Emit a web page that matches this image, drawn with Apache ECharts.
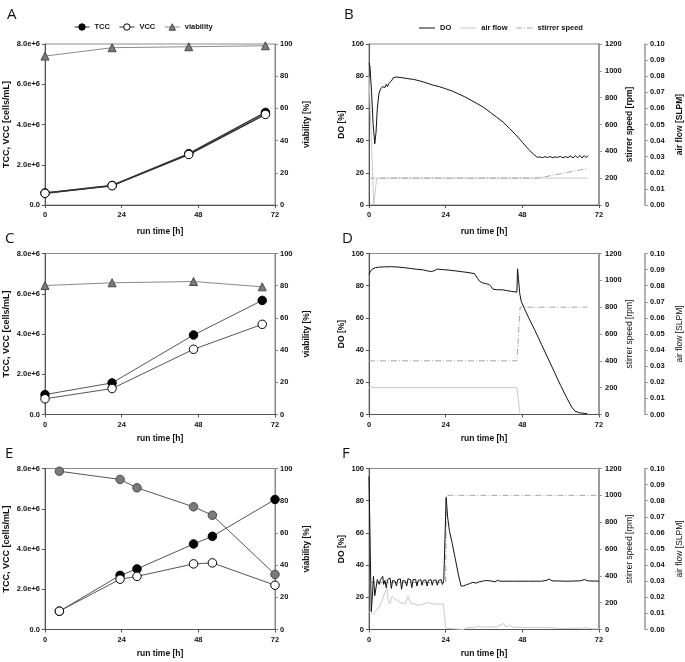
<!DOCTYPE html>
<html><head><meta charset="utf-8">
<script src="https://cdn.jsdelivr.net/npm/echarts@6/dist/echarts.min.js"></script>
<style>html,body{margin:0;padding:0;background:#fff}#c{width:685px;height:662px}</style>
</head><body><div id="c"></div>
<script>
// ---------- tick labels ----------
const timeTicks = ['0', '24', '48', '72'];
const cellTicks = ['0.0', '2.0e+6', '4.0e+6', '6.0e+6', '8.0e+6'];
const pctTicks = ['0', '20', '40', '60', '80', '100'];
const rpmTicks = ['0', '200', '400', '600', '800', '1000', '1200'];
const airTicks = ['0.00', '0.01', '0.02', '0.03', '0.04', '0.05', '0.06', '0.07', '0.08', '0.09', '0.10'];

// ---------- panel A ----------
const A_time = [0, 21, 45, 69];
const A_tcc = [0.60e6, 0.97e6, 2.55e6, 4.60e6];
const A_vcc = [0.58e6, 0.96e6, 2.51e6, 4.50e6];
const A_via = [92.5, 97.7, 98.3, 98.9];

// ---------- panel C ----------
const C_time = [0, 21, 46.5, 68];
const C_tcc = [0.99e6, 1.57e6, 3.95e6, 5.67e6];
const C_vcc = [0.78e6, 1.29e6, 3.24e6, 4.48e6];
const C_via = [80.1, 81.8, 82.6, 79.3];

// ---------- panel E ----------
const E_time = [4.5, 23.5, 28.8, 46.5, 52.4, 72];
const E_tcc = [0.91e6, 2.69e6, 3.01e6, 4.25e6, 4.63e6, 6.46e6];
const E_vcc = [0.91e6, 2.50e6, 2.64e6, 3.26e6, 3.31e6, 2.20e6];
const E_via = [98.3, 93.2, 88.0, 76.2, 71.0, 34.2];

// ---------- panel B ----------
const B_do = [[0,88],[0.3,86],[0.8,70],[1.3,50],[1.8,38],[2.2,45],[2.6,60],[3.1,69],[3.6,72],[4.2,73.5],[4.7,74.5],[5.0,73],[5.4,75],[5.8,73.5],[6.2,75.5],[6.6,75],[7.0,77],[7.3,76],[7.6,79],[8.0,78],[8.4,79.5],[9.0,79],[10,79.2],[12,78.5],[14,78],[16,77],[18,75.8],[20,74.5],[22,73.5],[24,72.2],[26,70.8],[28,69],[30,67.2],[32,65],[34,62.8],[36,60.5],[38,57.5],[40,54.5],[42,51.5],[44,47.5],[46,43.5],[48,39],[50,34.5],[51.5,31.5],[52.7,29.6],[53.5,29.9],[54.3,29.4],[55.1,30],[55.9,29.5],[56.7,30.1],[57.5,29.4],[58.3,29.9],[59.1,29.6],[59.9,30.2],[60.7,29.3],[61.5,30],[62.3,29.5],[63.1,30.4],[63.9,29.2],[64.6,30.6],[65.3,29.3],[66,30.8],[66.7,29.2],[67.4,30.7],[68,29.4],[68.6,30.8]];
const B_air = [[0,0.08],[1.5,0],[2.4,0.0167],[68.6,0.0167]];
const B_rpm = [[0,200],[52.7,200],[68.6,272]];

// ---------- panel D ----------
const D_do = [[0,87],[0.5,89],[1,90.3],[2,91.2],[3,91.5],[5,91.7],[7,91.8],[9,91.6],[11,91.2],[13,90.7],[15,90.2],[17,89.8],[18.3,89.2],[19.3,88.8],[20.3,89.2],[21.4,90.3],[23,90],[25,89.7],[27,89.2],[29,88.7],[31,88.2],[33,87.5],[33.6,86.8],[34,84.5],[34.6,82.8],[35.5,81.8],[36.5,81.3],[37.6,80.8],[38.2,79.5],[38.8,77.8],[40,77.5],[42,77.4],[43,77],[44.5,76.5],[46.3,76],[46.5,90.5],[46.8,84],[47.2,75],[47.7,70],[48.5,66.5],[50,60],[52,52],[54,43.5],[56,35],[58,26.5],[60,18],[62,10],[63.5,4.5],[64.5,2],[66,1],[68.3,0.5]];
const D_air = [[0,0.0167],[46.3,0.0167],[47.3,0]];
const D_rpm = [[0,400],[46.3,400],[47.3,800],[68.3,800]];

// ---------- panel F ----------
const F_do = [[0,95],[0.3,60],[0.7,11],[1.1,22],[1.4,33],[1.8,21],[2.2,22],[2.6,31],[2.9,30],[3.2,28],[3.6,31],[4.0,30.5],[4.3,33],[4.6,28],[5.0,30.5],[5.4,26],[5.8,31],[6.2,30],[6.6,32],[7.0,25.5],[7.4,30.5],[7.8,31],[8.2,30],[8.6,27],[9.0,31],[9.4,30.5],[9.8,31.5],[10.2,25],[10.6,30.5],[11.0,31],[11.4,30],[11.8,27],[12.2,31.5],[12.6,30.5],[13.0,31],[13.4,26],[13.8,31],[14.2,30.5],[14.6,31],[15.0,27],[15.4,30.5],[15.8,30],[16.2,31],[16.6,27.5],[17.0,30.5],[17.4,30],[17.8,30.8],[18.2,27],[18.6,30.5],[19.0,30],[19.4,31],[19.8,27.5],[20.2,30.5],[20.6,30],[21.0,30.8],[21.4,27.5],[21.8,30.5],[22.2,30],[22.6,31],[23.0,28],[23.4,30.5],[23.8,30],[24.0,29.5],[24.15,82],[24.6,70],[25.2,61],[26,54],[27,44],[28,34],[28.8,27],[29.5,27],[30.5,27.8],[31.5,28.5],[32.5,29.3],[33.5,28.8],[34.5,29.6],[35.5,30],[36.5,30.4],[38,30.2],[39.5,29.6],[40.2,30.6],[41,30],[45,30],[50,30],[54,30],[55.5,30.5],[56.5,31.3],[57.3,30.2],[62,30],[66,30.2],[67.5,31],[68.5,30.2],[72,30]];
const F_air = [[0,0.011],[0.5,0.0098],[1.2,0.0095],[2,0.011],[2.6,0.0115],[3.2,0.014],[4,0.0175],[4.6,0.018],[5.2,0.024],[5.6,0.0265],[6,0.018],[6.5,0.016],[7.2,0.0205],[8,0.019],[9,0.0178],[10,0.0165],[11.5,0.0162],[12.2,0.021],[13,0.0165],[14,0.016],[15.5,0.015],[17,0.0158],[18.3,0.0168],[19.5,0.016],[21,0.0158],[23.3,0.0158],[24,0.0008],[24.3,0],[29.5,0],[30.5,0.001],[33,0.0012],[34,0.002],[35,0.0015],[40,0.0016],[42.2,0.0038],[42.8,0.0015],[44,0.0025],[45,0.0015],[50,0.0012],[56,0.0012],[60,0.0006],[66,0.0008],[68,0.001],[70,0.0004],[72,0.0004]];
const F_rpm = [[0,350],[24,350],[24.2,1000],[72,1000]];

// ---------- building ----------
const FF = '"Liberation Sans", Arial, sans-serif';
const pairs = (t, v) => t.map((x, i) => [x, v[i]]);

const grids = [
  {left: 45, top: 44, width: 230, height: 161},
  {left: 369, top: 44, width: 231, height: 161},
  {left: 45, top: 253.5, width: 230, height: 161},
  {left: 369, top: 253.5, width: 231, height: 161},
  {left: 45, top: 468.5, width: 230, height: 161},
  {left: 369, top: 468.5, width: 231, height: 161}
].map(g => Object.assign(g, {show: true, borderColor: '#8a8a8a', borderWidth: 1, containLabel: false}));

const xGaps = [22.5, 22.5, 19.5, 19.5, 19.5, 19.5];
const xAxes = grids.map((g, i) => ({
  type: 'value', gridIndex: i, min: 0, max: 72, interval: 24,
  name: 'run time [h]', nameLocation: 'middle', nameGap: xGaps[i],
  nameTextStyle: {fontWeight: 'bold', fontSize: 8.5, color: '#111', fontFamily: FF},
  axisLine: {lineStyle: {color: '#555', width: 1}},
  axisTick: {length: 3, lineStyle: {color: '#555'}},
  axisLabel: {margin: 6, fontSize: 7.5, fontWeight: 'bold', color: '#111', fontFamily: FF,
    formatter: v => timeTicks[Math.round(v / 24)]},
  splitLine: {show: false}
}));

function yAx(o) {
  return {
    type: 'value', gridIndex: o.grid, position: o.pos, offset: o.offset || 0,
    min: o.min, max: o.max, interval: o.interval,
    name: o.name, nameLocation: 'middle', nameGap: o.gap,
    nameTextStyle: {fontWeight: o.bold === false ? 'normal' : 'bold', fontSize: o.nfs || 8.5, color: '#111', fontFamily: FF},
    axisLine: {show: true, lineStyle: {color: o.lc || '#555', width: o.lw || 1}},
    axisTick: {show: true, length: 3, lineStyle: {color: o.lc || '#555'}},
    axisLabel: {margin: o.margin || 5, fontSize: 7.5, fontWeight: 'bold', color: '#111', fontFamily: FF,
      formatter: v => o.ticks[Math.round((v - o.min) / o.interval)]},
    splitLine: {show: false}
  };
}

const yAxes = [];
const cellPanel = (g) => {
  yAxes.push(yAx({grid: g, pos: 'left', min: 0, max: 8e6, interval: 2e6, ticks: cellTicks, name: 'TCC, VCC [cells/mL]', gap: 34, nfs: 9}));
  yAxes.push(yAx({grid: g, pos: 'right', min: 0, max: 100, interval: 20, ticks: pctTicks, name: 'viability [%]', gap: 27.5, lc: '#888', margin: 5}));
};
const bioPanel = (g, boldRight) => {
  yAxes.push(yAx({grid: g, pos: 'left', min: 0, max: 100, interval: 20, ticks: pctTicks, name: 'DO [%]', gap: 22.5}));
  yAxes.push(yAx({grid: g, pos: 'right', min: 0, max: 1200, interval: 200, ticks: rpmTicks, name: 'stirrer speed [rpm]', gap: 25.5, lc: '#999', lw: 2, bold: boldRight, margin: 6}));
  yAxes.push(yAx({grid: g, pos: 'right', offset: 46, min: 0, max: 0.1, interval: 0.01, ticks: airTicks, name: 'air flow [SLPM]', gap: 30, lc: '#999', lw: 1.5, bold: boldRight, margin: 5}));
};
cellPanel(0);      // y 0,1
bioPanel(1, true); // y 2,3,4
cellPanel(2);      // y 5,6
bioPanel(3, false);// y 7,8,9
cellPanel(4);      // y 10,11
bioPanel(5, false);// y 12,13,14

const series = [];
function cellSeries(xi, yl, yr, t, tcc, vcc, via, viaSym, lw, lc) {
  series.push({name: 'viability', type: 'line', xAxisIndex: xi, yAxisIndex: yr, data: pairs(t, via),
    symbol: viaSym, symbolSize: viaSym === 'triangle' ? 8 : 8.5,
    lineStyle: {color: viaSym === 'triangle' ? '#8a8a8a' : lc, width: 1},
    itemStyle: {color: '#7a7a7a', borderColor: '#4a4a4a', borderWidth: 1}, z: 3});
  series.push({name: 'TCC', type: 'line', xAxisIndex: xi, yAxisIndex: yl, data: pairs(t, tcc),
    symbol: 'circle', symbolSize: 8.5, lineStyle: {color: lc, width: lw},
    itemStyle: {color: '#000', borderColor: '#000', borderWidth: 1}, z: 4});
  series.push({name: 'VCC', type: 'line', xAxisIndex: xi, yAxisIndex: yl, data: pairs(t, vcc),
    symbol: 'circle', symbolSize: 8.5, lineStyle: {color: lc, width: lw},
    itemStyle: {color: '#fff', borderColor: '#000', borderWidth: 1}, z: 5});
}
function bioSeries(xi, ydo, yrpm, yair, dov, air, rpm) {
  series.push({name: 'DO', type: 'line', xAxisIndex: xi, yAxisIndex: ydo, data: dov, symbol: 'none',
    lineStyle: {color: '#111', width: 1}, itemStyle: {color: '#111'}, z: 5});
  series.push({name: 'air flow', type: 'line', xAxisIndex: xi, yAxisIndex: yair, data: air, symbol: 'none',
    lineStyle: {color: '#c9c9c9', width: 1}, itemStyle: {color: '#c9c9c9'}, z: 3});
  series.push({name: 'stirrer speed', type: 'line', xAxisIndex: xi, yAxisIndex: yrpm, data: rpm, symbol: 'none',
    lineStyle: {color: '#a5a5a5', width: 1, type: [6, 2, 1, 2]}, itemStyle: {color: '#a5a5a5'}, z: 4});
}
cellSeries(0, 0, 1, A_time, A_tcc, A_vcc, A_via, 'triangle', 1.5, '#333');
bioSeries(1, 2, 3, 4, B_do, B_air, B_rpm);
cellSeries(2, 5, 6, C_time, C_tcc, C_vcc, C_via, 'triangle', 1, '#555');
bioSeries(3, 7, 8, 9, D_do, D_air, D_rpm);
cellSeries(4, 10, 11, E_time, E_tcc, E_vcc, E_via, 'circle', 1, '#555');
bioSeries(5, 12, 13, 14, F_do, F_air, F_rpm);

const letters = [['A', 7, 7], ['B', 344, 7], ['C', 5, 231], ['D', 342, 231], ['E', 5, 446], ['F', 342, 446]];
const dashDotIcon = 'path://M0,0H6V1H0Z M8,0H9V1H8Z M11,0H17V1H11Z';

const chart = echarts.init(document.getElementById('c'), null, {renderer: 'canvas'});
chart.setOption({
  animation: false,
  backgroundColor: '#fff',
  grid: grids, xAxis: xAxes, yAxis: yAxes, series: series,
  legend: [
    {data: ['TCC', 'VCC', 'viability'], left: 69, top: 18, itemWidth: 15, itemHeight: 8, itemGap: 9,
      itemStyle: {borderWidth: 1}, lineStyle: {width: 1},
      textStyle: {fontSize: 7.5, fontWeight: 'bold', color: '#111', fontFamily: FF}, selectedMode: false},
    {data: [{name: 'DO', icon: 'rect'}, {name: 'air flow', icon: 'rect'}, {name: 'stirrer speed', icon: dashDotIcon}],
      left: 414, top: 19, itemWidth: 16, itemHeight: 1, itemGap: 9, symbolKeepAspect: false,
      itemStyle: {borderWidth: 0},
      textStyle: {fontSize: 7.5, fontWeight: 'bold', color: '#111', fontFamily: FF}, selectedMode: false}
  ],
  graphic: letters.map(l => ({type: 'text', left: l[1], top: l[2],
    style: {text: l[0], fontSize: 15, fontFamily: '"Open Sans", "Liberation Sans", sans-serif', fill: '#111'}}))
});
</script></body></html>
